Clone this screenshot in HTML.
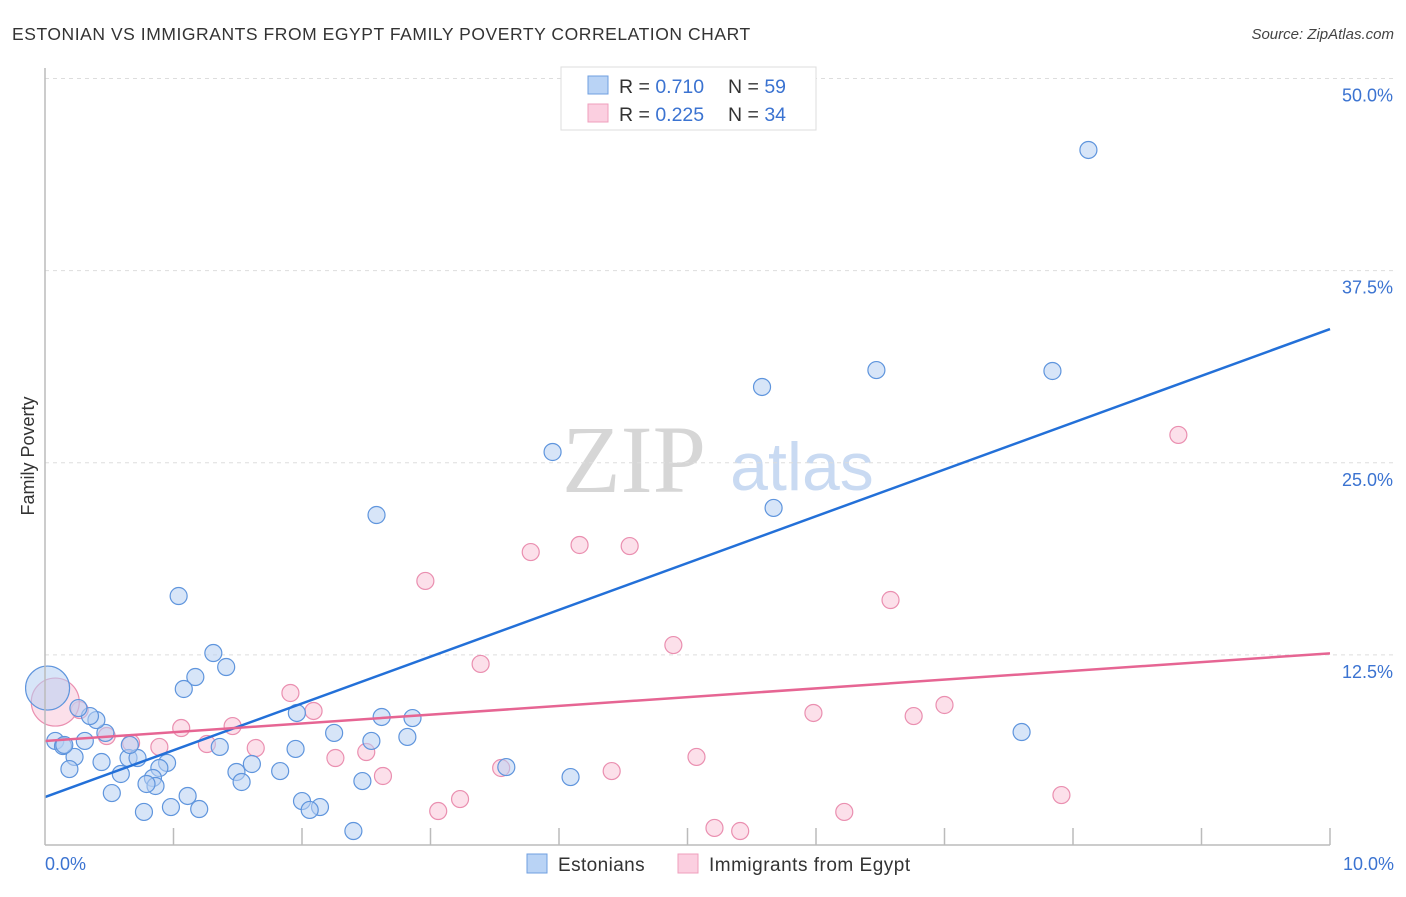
<!DOCTYPE html>
<html><head><meta charset="utf-8"><style>
body{margin:0;background:#fff;font-family:"Liberation Sans",sans-serif}
</style></head><body>
<svg width="1406" height="892" viewBox="0 0 1406 892" font-family="Liberation Sans, sans-serif">
<text x="12" y="40" font-size="17.5" fill="#333" letter-spacing="0.55">ESTONIAN VS IMMIGRANTS FROM EGYPT FAMILY POVERTY CORRELATION CHART</text>
<text x="1394" y="39" font-size="15" fill="#444" font-style="italic" text-anchor="end">Source: ZipAtlas.com</text>
<text x="634" y="492" font-size="96" fill="#d6d6d6" font-family="Liberation Serif, serif" text-anchor="middle">ZIP</text>
<text x="802" y="490" font-size="68" fill="#c9daf2" text-anchor="middle">atlas</text>
<text transform="translate(34,456) rotate(-90)" font-size="18" fill="#333" text-anchor="middle">Family Poverty</text>
<g id="grid"></g><g id="ticks"></g><g id="marks"></g>
<line x1="45" y1="68" x2="45" y2="845" stroke="#bbb" stroke-width="1.5"/>
<line x1="45" y1="845" x2="1330" y2="845" stroke="#bbb" stroke-width="1.5"/>
<text x="45" y="870" font-size="18" fill="#3b73d1">0.0%</text>
<text x="1394" y="870" font-size="18" fill="#3b73d1" text-anchor="end">10.0%</text>
<g>
<rect x="561" y="67" width="255" height="63" fill="#fff" stroke="#ddd"/>
<rect x="588" y="76" width="20" height="18" fill="#b9d3f5" stroke="#6f9fe0"/>
<rect x="588" y="104" width="20" height="18" fill="#fbcfe0" stroke="#ef9fbc"/>
<text x="619" y="93" font-size="19.5" fill="#333">R = <tspan fill="#3b73d1">0.710</tspan></text>
<text x="728" y="93" font-size="19.5" fill="#333">N = <tspan fill="#3b73d1">59</tspan></text>
<text x="619" y="121" font-size="19.5" fill="#333">R = <tspan fill="#3b73d1">0.225</tspan></text>
<text x="728" y="121" font-size="19.5" fill="#333">N = <tspan fill="#3b73d1">34</tspan></text>
</g>
<g>
<rect x="527" y="854" width="20" height="19" fill="#b9d3f5" stroke="#6f9fe0"/>
<text x="558" y="871" font-size="19" letter-spacing="0.4" fill="#333">Estonians</text>
<rect x="678" y="854" width="20" height="19" fill="#fbcfe0" stroke="#ef9fbc"/>
<text x="709" y="871" font-size="19" letter-spacing="0.5" fill="#333">Immigrants from Egypt</text>
</g>
</svg>
<script>
const yTicks=[12.5,25.0,37.5,50.0];
const yTickLabels=["12.5%","25.0%","37.5%","50.0%"];
const xTicks=[1,2,3,4,5,6,7,8,9,10];
const blueX=[8.12,6.47,7.84,5.58,3.95,5.67,2.58,1.04,1.31,1.41,1.17,1.08,0.02,1.96,2.25,2.62,2.86,2.82,2.54,1.95,1.36,1.61,1.49,1.53,1.83,2.47,2.00,2.14,2.06,2.40,1.11,1.20,0.98,0.77,0.52,0.59,0.44,0.65,0.72,0.95,0.89,0.84,0.86,0.79,0.66,0.47,0.40,0.35,0.26,0.31,0.08,0.14,0.23,0.19,4.09,3.59,7.60,0.15];
const blueY=[45.35,31.03,30.97,29.93,25.70,22.06,21.60,16.33,12.62,11.71,11.06,10.28,10.34,8.72,7.42,8.46,8.39,7.16,6.90,6.38,6.51,5.40,4.88,4.23,4.94,4.29,2.99,2.60,2.41,1.04,3.32,2.47,2.60,2.28,3.51,4.75,5.53,5.79,5.79,5.47,5.14,4.49,3.97,4.10,6.64,7.42,8.26,8.52,9.04,6.90,6.90,6.57,5.86,5.07,4.55,5.20,7.48,6.64];
const blueBig=[12];
const pinkX=[8.82,4.16,4.55,3.78,2.96,6.58,4.89,3.39,1.91,2.09,1.06,1.46,1.26,1.64,0.89,0.67,0.48,0.27,0.08,2.26,2.50,2.63,3.55,4.41,5.07,5.98,6.76,7.00,3.23,3.06,5.21,5.41,6.22,7.91];
const pinkY=[26.81,19.65,19.58,19.19,17.31,16.07,13.14,11.91,10.02,8.85,7.74,7.87,6.70,6.44,6.51,6.77,7.22,8.91,9.43,5.79,6.18,4.62,5.14,4.94,5.86,8.72,8.52,9.24,3.12,2.34,1.24,1.04,2.28,3.38];
const pinkBig=[18];
const blueTrend=[3.25,33.7];
const pinkTrend=[6.9,12.6];
const NS="http://www.w3.org/2000/svg";
const xs=v=>45+v*128.5, ys=v=>847-v*15.37;
function mk(t,a,p){const e=document.createElementNS(NS,t);for(const k in a)e.setAttribute(k,a[k]);document.getElementById(p).appendChild(e);return e;}
yTicks.forEach((v,i)=>{
 const l=mk('line',{x1:45,x2:1394,y1:ys(v),y2:ys(v),stroke:'#ddd','stroke-dasharray':'4 4'},'grid');
 
 
 const t=mk('text',{x:1393,y:ys(v)+23,'font-size':18,fill:'#3b73d1','text-anchor':'end'},'ticks');
 t.textContent=yTickLabels[i];
 
 
});
xTicks.forEach(v=>{
 const l=mk('line',{x1:xs(v),x2:xs(v),y1:828,y2:845,stroke:'#bbb','stroke-width':1.5},'ticks');
 
 
});
function pts(X,Y,big,fill,stroke,name){
 X.forEach((x,i)=>{
  const r=big.includes(i)?(name==='egypt-point'?24:22):8.5;
  const c=mk('circle',{cx:xs(x),cy:ys(Y[i]),r:r,fill:fill,'fill-opacity':0.55,stroke:stroke,'stroke-width':1.2},'marks');
  
  
 });
}
pts(pinkX,pinkY,pinkBig,'#f9c6d8','#ea8fb0','egypt-point');
pts(blueX,blueY,blueBig,'#b6d0f3','#5f95dd','estonian-point');
const bl=mk('line',{x1:xs(0),y1:ys(blueTrend[0]),x2:xs(10),y2:ys(blueTrend[1]),stroke:'#2370d8','stroke-width':2.5},'marks');


const pl=mk('line',{x1:xs(0),y1:ys(pinkTrend[0]),x2:xs(10),y2:ys(pinkTrend[1]),stroke:'#e66593','stroke-width':2.5},'marks');


</script>
</body></html>
